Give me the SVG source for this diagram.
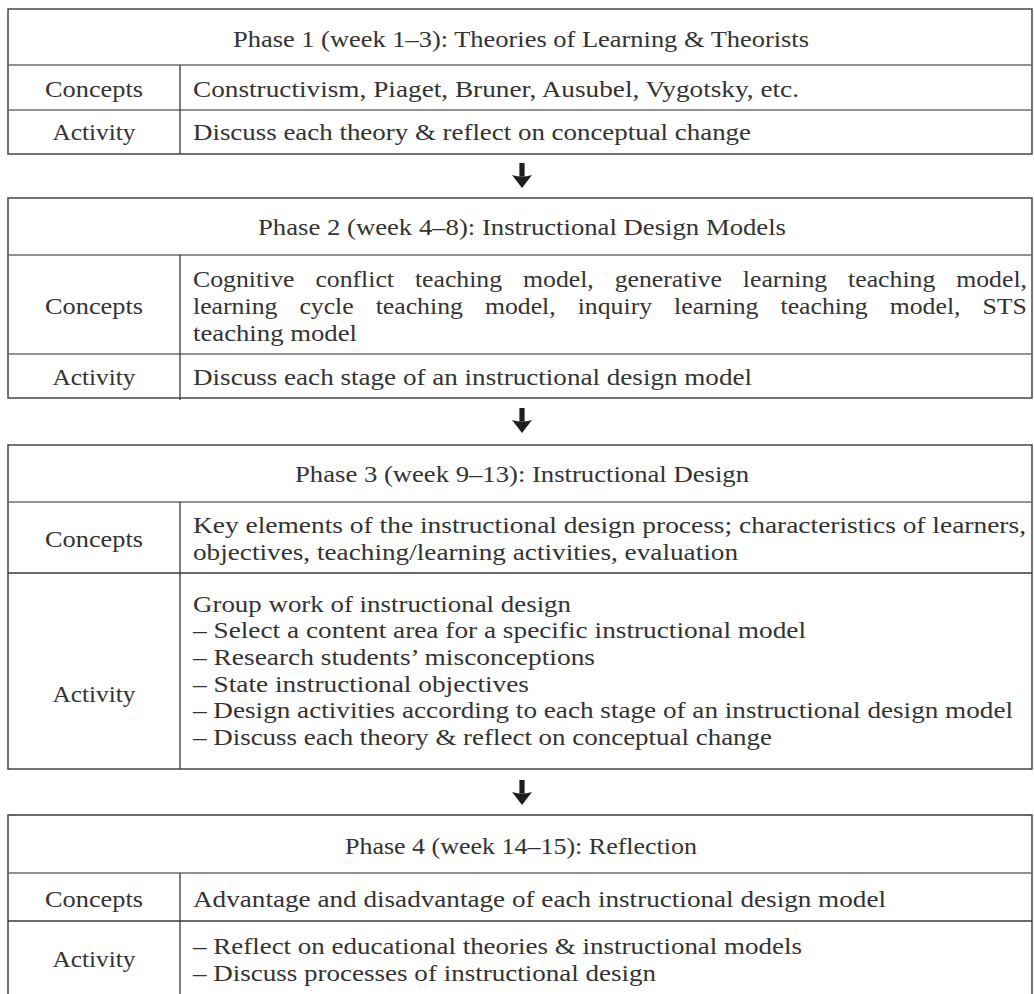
<svg xmlns="http://www.w3.org/2000/svg" width="1034" height="994" viewBox="0 0 1034 994">
  <style>
    text { font-family: "Liberation Serif", "Times New Roman", serif; font-size: 24px; fill: #333333; }
    .lbl { text-anchor: middle; }
    .frame { fill: none; stroke: #3a3a3a; stroke-width: 1.4; }
    .rule { fill: none; stroke: #6e6e6e; stroke-width: 1.6; }
    .col { fill: none; stroke: #3a3a3a; stroke-width: 1.3; }
    .arrow { fill: #1e1e1e; }
  </style>
  <defs>
    <g id="down-arrow">
      <rect x="-2.6" y="0" width="5.2" height="13.5"/>
      <path d="M-10,12 Q0,15 10,12 L0,25 Z"/>
    </g>
  </defs>

  <rect width="1034" height="994" fill="#ffffff"/>

  <!-- Phase 1 -->
  <g id="phase1">
    <rect class="frame" x="8" y="9" width="1024" height="145"/>
    <line class="rule" x1="8" y1="65" x2="1032" y2="65"/>
    <line class="rule" x1="8" y1="110" x2="1032" y2="110"/>
    <line class="col" x1="180" y1="65" x2="180" y2="154"/>
    <text x="233" y="47" textLength="576" lengthAdjust="spacingAndGlyphs">Phase 1 (week 1–3): Theories of Learning &amp; Theorists</text>
    <text class="lbl" x="94" y="97" textLength="98" lengthAdjust="spacingAndGlyphs">Concepts</text>
    <text x="193" y="97" textLength="606" lengthAdjust="spacingAndGlyphs">Constructivism, Piaget, Bruner, Ausubel, Vygotsky, etc.</text>
    <text class="lbl" x="94" y="140" textLength="83" lengthAdjust="spacingAndGlyphs">Activity</text>
    <text x="193" y="140" textLength="558" lengthAdjust="spacingAndGlyphs">Discuss each theory &amp; reflect on conceptual change</text>
  </g>

  <!-- Phase 2 -->
  <g id="phase2">
    <rect class="frame" x="8" y="198" width="1024" height="200"/>
    <line class="rule" x1="8" y1="255" x2="1032" y2="255"/>
    <line class="rule" x1="8" y1="354" x2="1032" y2="354"/>
    <line class="col" x1="180" y1="255" x2="180" y2="400"/>
    <text x="258" y="235" textLength="528" lengthAdjust="spacingAndGlyphs">Phase 2 (week 4–8): Instructional Design Models</text>
    <text class="lbl" x="94" y="314" textLength="98" lengthAdjust="spacingAndGlyphs">Concepts</text>
    <!-- justified lines: one tspan per word -->
    <text y="287">
      <tspan x="193" textLength="101.5" lengthAdjust="spacingAndGlyphs">Cognitive</tspan>
      <tspan x="315.4" textLength="78.6" lengthAdjust="spacingAndGlyphs">conflict</tspan>
      <tspan x="414.9" textLength="87.2" lengthAdjust="spacingAndGlyphs">teaching</tspan>
      <tspan x="523" textLength="70.8" lengthAdjust="spacingAndGlyphs">model,</tspan>
      <tspan x="614.7" textLength="107.2" lengthAdjust="spacingAndGlyphs">generative</tspan>
      <tspan x="742.8" textLength="84.4" lengthAdjust="spacingAndGlyphs">learning</tspan>
      <tspan x="848.1" textLength="87.2" lengthAdjust="spacingAndGlyphs">teaching</tspan>
      <tspan x="956.2" textLength="70.8" lengthAdjust="spacingAndGlyphs">model,</tspan>
    </text>
    <text y="314">
      <tspan x="193" textLength="84.4" lengthAdjust="spacingAndGlyphs">learning</tspan>
      <tspan x="299.4" textLength="54.3" lengthAdjust="spacingAndGlyphs">cycle</tspan>
      <tspan x="375.7" textLength="87.2" lengthAdjust="spacingAndGlyphs">teaching</tspan>
      <tspan x="484.9" textLength="70.8" lengthAdjust="spacingAndGlyphs">model,</tspan>
      <tspan x="577.7" textLength="74.4" lengthAdjust="spacingAndGlyphs">inquiry</tspan>
      <tspan x="674.1" textLength="84.4" lengthAdjust="spacingAndGlyphs">learning</tspan>
      <tspan x="780.5" textLength="87.2" lengthAdjust="spacingAndGlyphs">teaching</tspan>
      <tspan x="889.7" textLength="70.8" lengthAdjust="spacingAndGlyphs">model,</tspan>
      <tspan x="982.5" textLength="44.4" lengthAdjust="spacingAndGlyphs">STS</tspan>
    </text>
    <text x="193" y="341" textLength="164" lengthAdjust="spacingAndGlyphs">teaching model</text>
    <text class="lbl" x="94" y="385" textLength="83" lengthAdjust="spacingAndGlyphs">Activity</text>
    <text x="193" y="385" textLength="559" lengthAdjust="spacingAndGlyphs">Discuss each stage of an instructional design model</text>
  </g>

  <!-- Phase 3 -->
  <g id="phase3">
    <rect class="frame" x="8" y="445" width="1024" height="324"/>
    <line class="rule" x1="8" y1="502" x2="1032" y2="502"/>
    <line class="col" x1="8" y1="573" x2="1032" y2="573"/>
    <line class="col" x1="180" y1="502" x2="180" y2="769"/>
    <text x="295" y="482" textLength="454" lengthAdjust="spacingAndGlyphs">Phase 3 (week 9–13): Instructional Design</text>
    <text class="lbl" x="94" y="547" textLength="98" lengthAdjust="spacingAndGlyphs">Concepts</text>
    <text x="193" y="533" textLength="833" lengthAdjust="spacingAndGlyphs">Key elements of the instructional design process; characteristics of learners,</text>
    <text x="193" y="560" textLength="545" lengthAdjust="spacingAndGlyphs">objectives, teaching/learning activities, evaluation</text>
    <text class="lbl" x="94" y="702" textLength="83" lengthAdjust="spacingAndGlyphs">Activity</text>
    <text x="193" y="612" textLength="378" lengthAdjust="spacingAndGlyphs">Group work of instructional design</text>
    <text x="193" y="638" textLength="613" lengthAdjust="spacingAndGlyphs">– Select a content area for a specific instructional model</text>
    <text x="193" y="665" textLength="402" lengthAdjust="spacingAndGlyphs">– Research students’ misconceptions</text>
    <text x="193" y="692" textLength="336" lengthAdjust="spacingAndGlyphs">– State instructional objectives</text>
    <text x="193" y="718" textLength="820" lengthAdjust="spacingAndGlyphs">– Design activities according to each stage of an instructional design model</text>
    <text x="193" y="745" textLength="579" lengthAdjust="spacingAndGlyphs">– Discuss each theory &amp; reflect on conceptual change</text>
  </g>

  <!-- Phase 4 (table runs past the bottom edge) -->
  <g id="phase4">
    <path class="frame" d="M8,1000 V815 H1032 V1000"/>
    <line class="rule" x1="8" y1="873" x2="1032" y2="873"/>
    <line class="col" x1="8" y1="921" x2="1032" y2="921"/>
    <line class="col" x1="180" y1="873" x2="180" y2="1000"/>
    <text x="345" y="854" textLength="352" lengthAdjust="spacingAndGlyphs">Phase 4 (week 14–15): Reflection</text>
    <text class="lbl" x="94" y="907" textLength="98" lengthAdjust="spacingAndGlyphs">Concepts</text>
    <text x="193" y="907" textLength="693" lengthAdjust="spacingAndGlyphs">Advantage and disadvantage of each instructional design model</text>
    <text class="lbl" x="94" y="967" textLength="83" lengthAdjust="spacingAndGlyphs">Activity</text>
    <text x="193" y="954" textLength="609" lengthAdjust="spacingAndGlyphs">– Reflect on educational theories &amp; instructional models</text>
    <text x="193" y="981" textLength="463" lengthAdjust="spacingAndGlyphs">– Discuss processes of instructional design</text>
  </g>

  <!-- flow arrows between phases -->
  <g id="connectors" class="arrow">
    <use href="#down-arrow" x="522" y="163"/>
    <use href="#down-arrow" x="522" y="408"/>
    <use href="#down-arrow" x="522" y="780"/>
  </g>
</svg>
